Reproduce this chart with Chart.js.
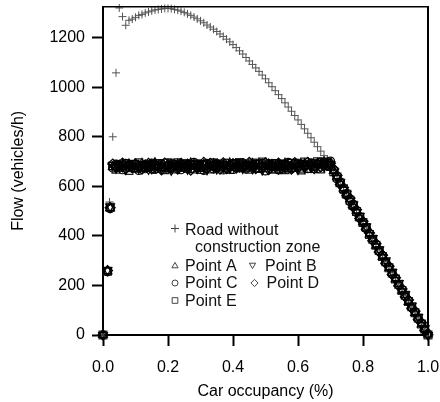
<!DOCTYPE html>
<html><head><meta charset="utf-8">
<script src="https://cdn.jsdelivr.net/npm/chart.js@4/dist/chart.umd.min.js"></script>
<style>html,body{margin:0;padding:0;background:#fff}#w{width:440px;height:402px;position:relative}</style>
</head><body><div id="w"><canvas id="c" width="440" height="402"></canvas></div>
<script>
// ---- data ----
const xTicks = [0, 0.2, 0.4, 0.6, 0.8, 1.0];
const yTicks = [0, 200, 400, 600, 800, 1000, 1200];

const roadOccupancy = [0, 0.02, 0.03, 0.04,
  0.05, 0.06, 0.07, 0.08, 0.09, 0.10, 0.11, 0.12, 0.13, 0.14,
  0.15, 0.16, 0.17, 0.18, 0.19, 0.20, 0.21, 0.22, 0.23, 0.24,
  0.25, 0.26, 0.27, 0.28, 0.29, 0.30, 0.31, 0.32, 0.33, 0.34,
  0.35, 0.36, 0.37, 0.38, 0.39, 0.40, 0.41, 0.42, 0.43, 0.44,
  0.45, 0.46, 0.47, 0.48, 0.49, 0.50, 0.51, 0.52, 0.53, 0.54,
  0.55, 0.56, 0.57, 0.58, 0.59, 0.60, 0.61, 0.62, 0.63, 0.64,
  0.65, 0.66, 0.67, 0.68, 0.69, 0.70, 0.71, 0.72, 0.73, 0.74,
  0.75, 0.76, 0.77, 0.78, 0.79, 0.80, 0.81, 0.82, 0.83, 0.84,
  0.85, 0.86, 0.87, 0.88, 0.89, 0.90, 0.91, 0.92, 0.93, 0.94,
  0.95, 0.96, 0.97, 0.98, 0.99, 1.00];
const roadFlow = [0, 537, 800, 1058,
  1320, 1285, 1250, 1270, 1275, 1282, 1290, 1294, 1300, 1304,
  1308, 1312, 1314, 1316, 1318, 1318, 1317, 1314, 1311, 1307,
  1302, 1296, 1290, 1283, 1276, 1268, 1260, 1251, 1243, 1234,
  1225, 1215, 1205, 1194, 1183, 1172, 1160, 1147, 1134, 1120,
  1106, 1092, 1078, 1064, 1049, 1034, 1018, 1002, 986, 970,
  954, 937, 920, 903, 886, 868, 850, 832, 814, 796,
  778, 760, 742, 724, 706, 688, 665, 642, 619, 596,
  573, 550, 527, 504, 481, 458, 435, 412, 389, 366,
  343, 320, 297, 275, 252, 229, 206, 183, 160, 137,
  114, 92, 69, 46, 23, 0];

const occupancy = [0, 0.014, 0.022,
  0.03, 0.04, 0.05, 0.06, 0.07, 0.08, 0.09, 0.10, 0.11, 0.12,
  0.13, 0.14, 0.15, 0.16, 0.17, 0.18, 0.19, 0.20, 0.21, 0.22,
  0.23, 0.24, 0.25, 0.26, 0.27, 0.28, 0.29, 0.30, 0.31, 0.32,
  0.33, 0.34, 0.35, 0.36, 0.37, 0.38, 0.39, 0.40, 0.41, 0.42,
  0.43, 0.44, 0.45, 0.46, 0.47, 0.48, 0.49, 0.50, 0.51, 0.52,
  0.53, 0.54, 0.55, 0.56, 0.57, 0.58, 0.59, 0.60, 0.61, 0.62,
  0.63, 0.64, 0.65, 0.66, 0.67, 0.68, 0.69, 0.70,
  0.71, 0.72, 0.73, 0.74, 0.75, 0.76, 0.77, 0.78, 0.79, 0.80,
  0.81, 0.82, 0.83, 0.84, 0.85, 0.86, 0.87, 0.88, 0.89, 0.90,
  0.91, 0.92, 0.93, 0.94, 0.95, 0.96, 0.97, 0.98, 0.99, 1.00];

const flowA = [0, 258, 512,
  678, 684, 671, 688, 676, 690, 682, 669, 685, 692,
  680, 674, 687, 695, 679, 683, 671, 689, 684, 676,
  690, 681, 673, 686, 694, 678, 684, 670, 688, 682,
  676, 691, 683, 672, 687, 680, 694, 677, 685, 671,
  689, 682, 675, 692, 680, 668, 686, 679, 690, 683,
  674, 688, 681, 693, 676, 684, 670, 687, 679, 691,
  682, 688, 677, 693, 685, 690, 696, 684,
  662, 640, 612, 592, 566, 548, 520, 502, 474, 455,
  433, 406, 388, 361, 342, 316, 297, 270, 251, 225,
  206, 179, 161, 134, 115, 89, 70, 43, 25, 2];
const flowB = [0, 262, 518,
  686, 673, 690, 679, 668, 684, 694, 677, 672, 686,
  691, 669, 682, 676, 697, 672, 688, 680, 665, 693,
  675, 687, 697, 669, 683, 690, 672, 694, 677, 667,
  688, 678, 670, 696, 675, 689, 673, 684, 698, 679,
  672, 693, 686, 671, 695, 684, 666, 688, 674, 697,
  687, 670, 695, 676, 689, 699, 682, 668, 694, 673,
  692, 676, 697, 683, 694, 679, 700, 690,
  656, 634, 616, 586, 570, 541, 526, 496, 480, 450,
  437, 403, 391, 358, 345, 314, 300, 268, 254, 222,
  209, 176, 164, 131, 118, 86, 72, 41, 27, 0];
const flowC = [0, 255, 510,
  674, 690, 682, 667, 693, 675, 681, 688, 664, 680,
  671, 686, 694, 668, 684, 691, 676, 670, 692, 681,
  684, 667, 690, 678, 672, 697, 686, 676, 664, 693,
  681, 670, 692, 685, 666, 694, 679, 668, 688, 674,
  695, 670, 683, 677, 690, 675, 693, 662, 684, 678,
  692, 666, 684, 674, 697, 671, 688, 680, 673, 686,
  671, 695, 680, 672, 698, 687, 683, 702,
  666, 630, 618, 584, 572, 538, 528, 494, 478, 452,
  430, 410, 384, 365, 338, 320, 293, 274, 247, 229,
  202, 183, 157, 138, 111, 93, 66, 47, 21, 4];
const flowD = [0, 260, 514,
  690, 677, 686, 694, 671, 687, 675, 691, 681, 669,
  687, 693, 670, 684, 678, 666, 694, 686, 674, 688,
  669, 693, 679, 690, 665, 687, 675, 681, 697, 672,
  693, 684, 677, 669, 695, 671, 686, 692, 673, 687,
  676, 687, 697, 683, 671, 692, 680, 695, 667, 689,
  679, 694, 672, 688, 682, 669, 696, 675, 687, 680,
  697, 684, 671, 690, 678, 699, 688, 693,
  670, 644, 608, 594, 562, 552, 516, 506, 470, 458,
  427, 412, 381, 368, 335, 322, 290, 277, 244, 231,
  199, 186, 154, 141, 108, 96, 63, 49, 19, 1];
const flowE = [0, 257, 516,
  682, 669, 678, 684, 687, 664, 689, 673, 695, 676,
  676, 681, 688, 672, 691, 679, 667, 695, 679, 670,
  695, 676, 684, 672, 689, 670, 691, 668, 685, 689,
  670, 695, 687, 679, 683, 675, 668, 688, 680, 696,
  683, 676, 669, 694, 687, 672, 698, 676, 690, 670,
  670, 683, 690, 667, 673, 692, 677, 693, 666, 698,
  686, 672, 690, 699, 670, 692, 694, 680,
  659, 638, 614, 590, 568, 544, 524, 498, 476, 454,
  434, 406, 386, 362, 341, 317, 296, 271, 250, 226,
  205, 180, 160, 135, 114, 90, 69, 44, 24, 0];

const seriesNames = ['Road without construction zone', 'Point A', 'Point B', 'Point C', 'Point D', 'Point E'];

// ---- chart ----
const FONT = '"Liberation Sans", Arial, sans-serif';
const FS = 16;
const pts = (xs, ys) => xs.map((x, i) => ({x: x, y: ys[i]}));
const mk = (label, data, style, radius, rot, color, bw) => ({
  label: label, data: data, showLine: false, clip: false,
  pointStyle: style, pointRadius: radius, pointHoverRadius: radius,
  pointRotation: rot, borderColor: color, backgroundColor: 'rgba(0,0,0,0)',
  pointBorderWidth: bw
});

const legendRows = [
  {style: 'cross', rot: 0, r: 4, mx: 175, my: 228.5, texts: [['Road without', 185, 234.5], ['construction zone', 195, 252]]},
  {style: 'triangle', rot: 0, r: 3.6, mx: 175, my: 266, texts: [['Point A', 185, 270.5]]},
  {style: 'triangle', rot: 180, r: 3.6, mx: 252.5, my: 265, texts: [['Point B', 265, 270.5]]},
  {style: 'circle', rot: 0, r: 3, mx: 175, my: 283, texts: [['Point C', 185, 288]]},
  {style: 'rectRot', rot: 0, r: 3.6, mx: 254.5, my: 283, texts: [['Point D', 266.5, 288]]},
  {style: 'rect', rot: 0, r: 4, mx: 175, my: 300.5, texts: [['Point E', 185, 305.5]]}
];

const framePlugin = {
  id: 'frame',
  afterDraw(chart) {
    const ctx = chart.ctx, a = chart.chartArea;
    ctx.save();
    ctx.strokeStyle = '#000';
    ctx.lineWidth = 1.5;
    ctx.beginPath(); ctx.moveTo(a.left, a.top); ctx.lineTo(a.right + 1, a.top); ctx.stroke();
    ctx.lineWidth = 2;
    ctx.beginPath(); ctx.moveTo(a.right, a.top); ctx.lineTo(a.right, a.bottom); ctx.stroke();
    // legend
    ctx.font = FS + 'px ' + FONT;
    ctx.textBaseline = 'alphabetic';
    ctx.textAlign = 'left';
    legendRows.forEach((row) => {
      ctx.strokeStyle = '#444';
      ctx.fillStyle = 'rgba(0,0,0,0)';
      ctx.lineWidth = 1;
      Chart.helpers.drawPoint(ctx, {pointStyle: row.style, radius: row.r, rotation: row.rot, borderWidth: 1}, row.mx, row.my);
      ctx.fillStyle = '#111';
      row.texts.forEach(t => ctx.fillText(t[0], t[1], t[2]));
    });
    ctx.restore();
  }
};

new Chart(document.getElementById('c'), {
  type: 'scatter',
  data: {
    datasets: [
      mk(seriesNames[1], pts(occupancy, flowA), 'triangle', 5, 0, '#000', 1.2),
      mk(seriesNames[2], pts(occupancy, flowB), 'triangle', 5, 180, '#000', 1.2),
      mk(seriesNames[3], pts(occupancy, flowC), 'circle', 4, 0, '#000', 1.2),
      mk(seriesNames[4], pts(occupancy, flowD), 'rectRot', 5, 0, '#000', 1.2),
      mk(seriesNames[5], pts(occupancy, flowE), 'rect', 5.5, 0, '#222', 1.2),
      mk(seriesNames[0], pts(roadOccupancy, roadFlow), 'cross', 4, 0, '#555', 1)
    ]
  },
  options: {
    responsive: false, animation: false, devicePixelRatio: 1,
    layout: {padding: {left: 0, right: 12, top: 6.5, bottom: 0}},
    plugins: {legend: {display: false}, tooltip: {enabled: false}},
    scales: {
      x: {
        type: 'linear', min: 0, max: 1,
        afterFit: s => { s.height = 67; s.paddingLeft = 0; s.paddingRight = 0; },
        afterBuildTicks: s => { s.ticks = xTicks.map(v => ({value: v})); },
        grid: {display: true, drawOnChartArea: false, drawTicks: true, tickLength: 11, tickWidth: 2, tickColor: '#000'},
        border: {display: true, width: 2, color: '#000'},
        ticks: {color: '#000', font: {family: FONT, size: FS}, padding: 12, callback: v => Number(v).toFixed(1)},
        title: {display: true, text: 'Car occupancy (%)', color: '#000', font: {family: FONT, size: FS}, padding: {top: 0, bottom: 1}}
      },
      y: {
        type: 'linear', min: 0, max: 1325,
        afterFit: s => { s.width = 103; s.paddingTop = 0; s.paddingBottom = 0; },
        afterBuildTicks: s => { s.ticks = yTicks.map(v => ({value: v})); },
        grid: {display: true, drawOnChartArea: false, drawTicks: true, tickLength: 11, tickWidth: 2, tickColor: '#000'},
        border: {display: true, width: 2, color: '#000'},
        ticks: {color: '#000', font: {family: FONT, size: FS}, padding: 7, callback: v => String(v)},
        title: {display: true, text: 'Flow (vehicles/h)', color: '#000', font: {family: FONT, size: FS}, padding: {top: 9, bottom: 0}}
      }
    }
  },
  plugins: [framePlugin]
});
</script>
</body></html>
